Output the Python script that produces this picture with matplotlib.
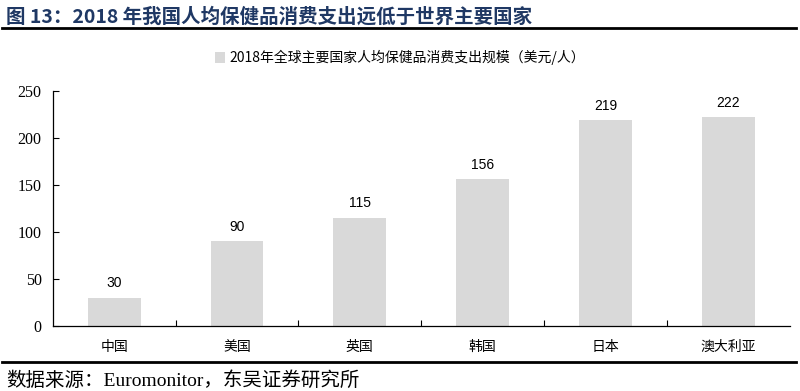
import matplotlib
matplotlib.use("Agg")
import matplotlib.pyplot as plt
from matplotlib.lines import Line2D
from matplotlib.patches import Patch

categories = ["中国", "美国", "英国", "韩国", "日本", "澳大利亚"]
values = [30, 90, 115, 156, 219, 222]
yticks = [0, 50, 100, 150, 200, 250]
series_name = "2018年全球主要国家人均保健品消费支出规模（美元/人）"
title = "图 13：2018 年我国人均保健品消费支出远低于世界主要国家"
source = "数据来源：Euromonitor，东吴证券研究所"

CJK = ["Liberation Serif", "Noto Sans CJK SC", "DejaVu Sans"]
plt.rcParams["font.family"] = CJK

fig = plt.figure(figsize=(8, 3.91), dpi=100)
ax = fig.add_axes([0.066, 0.166, 0.921, 0.601])

x = list(range(len(categories)))
ax.bar(x, values, width=0.43, color="#D9D9D9", zorder=2)
for xi, v in zip(x, values):
    ax.text(xi, v + 8, str(v), ha="center", va="bottom", fontsize=10,
            family=["Liberation Sans", "DejaVu Sans"], color="#000000")

ax.set_xlim(-0.5, len(categories) - 0.5)
ax.set_ylim(0, 250)
ax.set_yticks(yticks)
ax.set_yticklabels([str(t) for t in yticks], fontsize=11.5,
                   family=["Liberation Serif", "DejaVu Serif"])
ax.set_xticks(x)
ax.set_xticklabels(categories, fontsize=10, family=["Noto Sans CJK SC", "DejaVu Sans"])
ax.tick_params(axis="x", length=0, pad=10)
ax.set_xticks([i + 0.5 for i in x[:-1]], minor=True)
ax.tick_params(axis="x", which="minor", direction="in", length=4, width=0.8)
ax.tick_params(axis="y", direction="in", length=4, width=0.8, pad=8)
for s in ["top", "right"]:
    ax.spines[s].set_visible(False)
for s in ["left", "bottom"]:
    ax.spines[s].set_linewidth(0.9)

# legend
fig.legend(handles=[Patch(facecolor="#D9D9D9", edgecolor="none", label=series_name)],
           loc="center", bbox_to_anchor=(0.5, 0.852), frameon=False,
           prop={"family": ["Noto Sans CJK SC", "DejaVu Sans"], "size": 10},
           handlelength=0.7, handleheight=0.9, handletextpad=0.3)

# title and rules
fig.text(0.008, 0.957, title, ha="left", va="center", fontsize=14, fontweight="bold",
         color="#1F3864", family=["Noto Sans CJK SC", "DejaVu Sans"])
fig.add_artist(Line2D([0.003, 0.995], [0.928, 0.928], color="black", lw=2.0))
fig.add_artist(Line2D([0.003, 0.995], [0.074, 0.074], color="black", lw=2.0))
fig.text(0.008, 0.028, source, ha="left", va="center", fontsize=14,
         family=["Liberation Serif", "Noto Sans CJK SC", "DejaVu Sans"], color="#000000")

fig.savefig("out.png", dpi=100)
